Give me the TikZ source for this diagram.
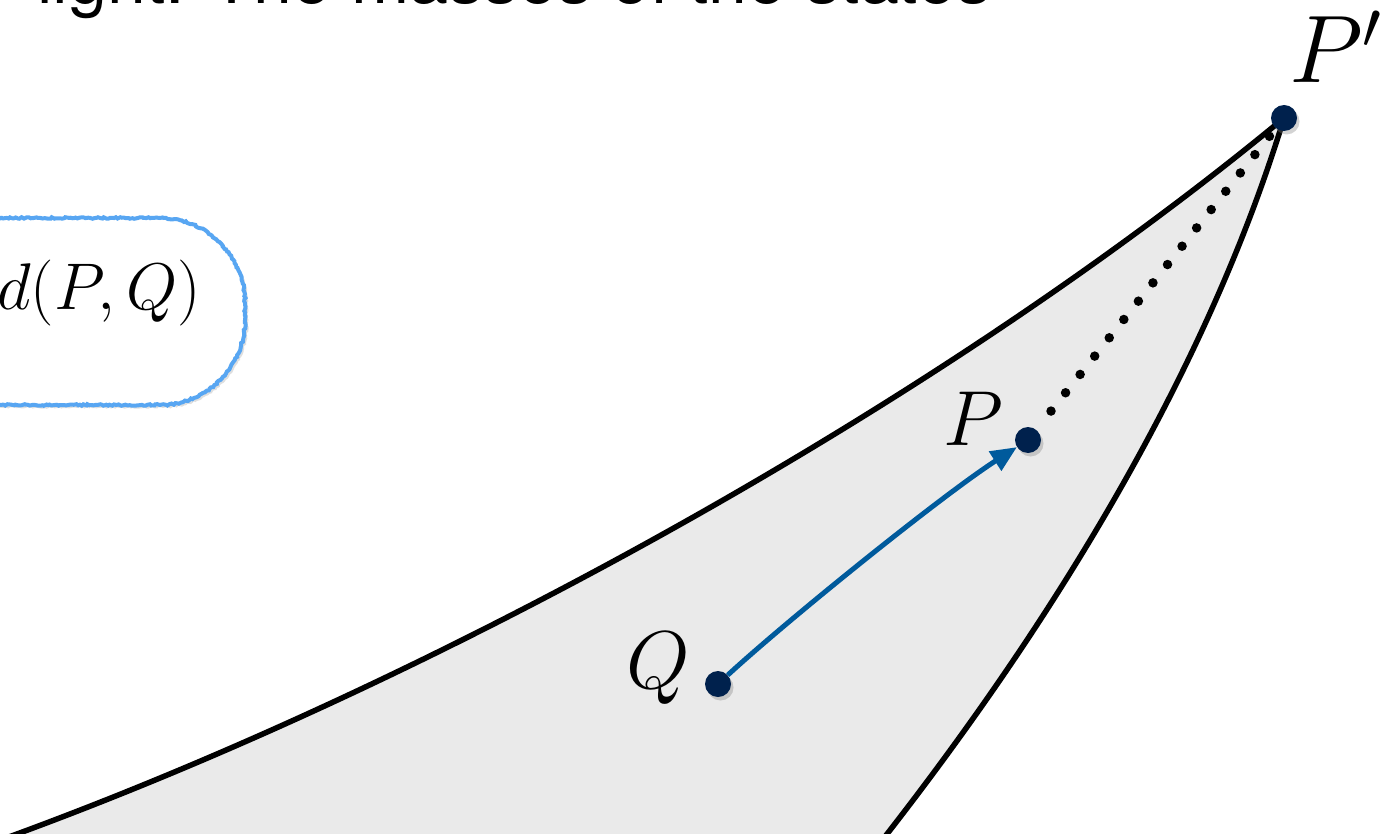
\RequirePackage{fix-cm}
\documentclass[tikz,border=0pt]{standalone}
\usepackage{fontspec}
\newfontfamily\topfont{TeX Gyre Heros}
\usetikzlibrary{arrows.meta,shadows,decorations.pathmorphing}
\definecolor{regiongray}{HTML}{EAEAEA}
\definecolor{dotnavy}{HTML}{00214D}
\definecolor{arrowblue}{HTML}{005A9C}
\definecolor{boxblue}{HTML}{58A6F2}
\tikzset{
  ptdot/.style={circle, fill=dotnavy, minimum size=26pt, inner sep=0pt,
    drop shadow={opacity=0.35, shadow xshift=2.5pt, shadow yshift=-3.5pt}},
  lbl/.style={anchor=base west, inner sep=0pt},
  edgeline/.style={draw=black, line width=5.5pt, line join=round},
  dotline/.style={draw=black, line width=9.5pt, line cap=round, dash pattern=on 0pt off 23.4pt},
  flowarrow/.style={draw=arrowblue, line width=5pt, -{Triangle[length=26pt,width=22pt]}},
  sketchbox/.style={draw=boxblue, line width=4pt, fill=white,
    decorate, decoration={random steps, segment length=2pt, amplitude=0.8pt},
    drop shadow={opacity=0.25, shadow xshift=3pt, shadow yshift=-3pt}}
}
\begin{document}
\begin{tikzpicture}[x=1pt,y=-1pt]
\useasboundingbox (0,0) rectangle (1396,834);
\clip (0,0) rectangle (1396,834);
% top text (cut off by the picture's edge, as in the reference)
\node[lbl, font=\topfont\fontsize{70}{70}\selectfont] (toptext) at (37,4) {light. The masses of the states};
% points
\coordinate (PpC) at (1284,118);
% region
\fill[regiongray] (-5,842) .. controls (430,685) and (937,405) .. (PpC) .. controls (1211,357) and (1068,603) .. (880,843) -- cycle;
\draw[edgeline] (-5,842) .. controls (430,685) and (937,405) .. (PpC) .. controls (1211,357) and (1068,603) .. (880,843);
% dots
\node[ptdot] (P) at (1028,440) {};
\node[ptdot] (Q) at (718,684) {};
\draw[dotline, shorten >=18pt] (PpC) -- (P.center);
\node[ptdot] (Pp) at (PpC) {};
\draw[flowarrow] (Q) .. controls (791,617) and (944,494) .. (P);
% labels
\node[lbl, font=\fontsize{96}{96}\selectfont] (Pplabel) at (1289,83) {$P'$};
\node[lbl, font=\fontsize{78}{78}\selectfont] (Plabel) at (943,445) {$P$};
\node[lbl, font=\fontsize{82}{82}\selectfont] (Qlabel) at (626,688) {$Q$};
% box
\draw[sketchbox] (-120,218) -- (160,218) .. controls (207,218) and (245,256) .. (245,303) -- (245,320) .. controls (245,367) and (207,405) .. (160,405) -- (-120,405) -- cycle;
\node[lbl, font=\fontsize{66}{66}\selectfont] (dist) at (-3,309) {$d(P,Q)$};
\end{tikzpicture}
\end{document}
